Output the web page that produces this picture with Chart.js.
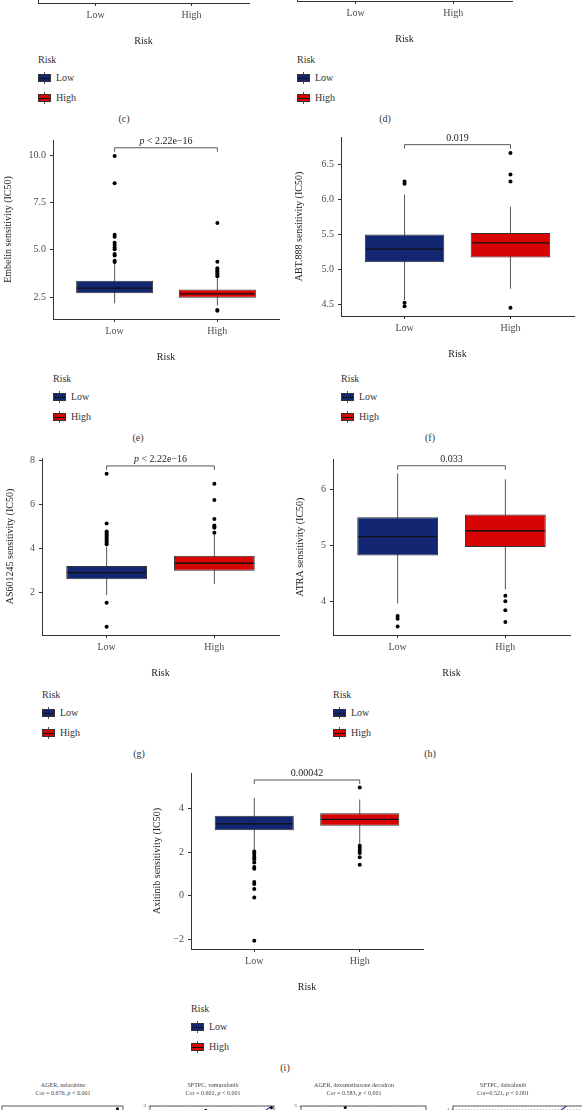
<!DOCTYPE html>
<html>
<head>
<meta charset="utf-8">
<script src="https://cdn.jsdelivr.net/npm/chart.js@4.4.0/dist/chart.umd.min.js"></script>
<style>
  html, body { margin: 0; padding: 0; background: #fff; }
  body { width: 582px; height: 1110px; position: relative; overflow: hidden;
         font-family: "Liberation Serif", "DejaVu Serif", serif; color: #333; }
  .txt { position: absolute; font-size: 10px; line-height: 12px; white-space: nowrap; }
  .mid { transform: translateX(-50%); }
  .tiny { position: absolute; font-size: 6px; line-height: 7px; white-space: nowrap; transform: translateX(-50%); color: #444; }
</style>
</head>
<body>
<script>
'use strict'

// DATA
const riskGroups = ['Low', 'High'];
const riskColors = ['#132672', '#d80404'];

// boxes: lower whisker, Q1, median, Q3, upper whisker
const embelinLow = [2.17, 2.70, 2.97, 3.36, 4.30];
const embelinHigh = [2.05, 2.46, 2.67, 2.90, 3.50];
const embelinLowOut = [9.95, 8.52, 5.79, 5.69, 5.37, 5.25, 5.12, 5.02, 4.77, 4.70, 4.42, 4.35];
const embelinHighOut = [6.42, 4.37, 4.02, 3.93, 3.85, 3.76, 3.67, 3.60, 1.82, 1.78];
const embelinTicks = [2.5, 5, 7.5, 10];
const embelinTickLabels = ['2.5', '5.0', '7.5', '10.0'];

const abtLow = [4.56, 5.10, 5.29, 5.50, 6.07];
const abtHigh = [4.72, 5.17, 5.38, 5.52, 5.90];
const abtLowOut = [6.26, 6.23, 4.52, 4.47];
const abtHighOut = [6.67, 6.36, 6.26, 4.45];
const abtTicks = [4.5, 5, 5.5, 6, 6.5];
const abtTickLabels = ['4.5', '5.0', '5.5', '6.0', '6.5'];

const as601Low = [1.90, 2.61, 2.91, 3.21, 4.10];
const as601High = [2.40, 3.00, 3.34, 3.68, 4.65];
const as601LowOut = [7.40, 5.15, 4.78, 4.72, 4.65, 4.58, 4.50, 4.42, 4.35, 4.27, 4.20, 1.55, 0.45];
const as601HighOut = [6.95, 6.21, 5.35, 5.05, 5.00, 4.95, 4.72];
const as601Ticks = [2, 4, 6, 8];
const as601TickLabels = ['2', '4', '6', '8'];

const atraLow = [3.96, 4.82, 5.155, 5.50, 6.28];
const atraHigh = [4.21, 4.97, 5.26, 5.55, 6.18];
const atraLowOut = [3.74, 3.69, 3.55];
const atraHighOut = [4.10, 4.00, 3.84, 3.63];
const atraTicks = [4, 5, 6];
const atraTickLabels = ['4', '5', '6'];

const axitinibLow = [2.10, 3.01, 3.30, 3.67, 4.48];
const axitinibHigh = [2.35, 3.21, 3.50, 3.79, 4.42];
const axitinibLowOut = [2.03, 1.96, 1.87, 1.77, 1.68, 1.53, 1.32, 1.24, 0.63, 0.54, 0.31, -0.08, -2.06];
const axitinibHighOut = [4.96, 2.29, 2.19, 2.08, 1.96, 1.77, 1.42];
const axitinibTicks = [-2, 0, 2, 4];
const axitinibTickLabels = ['\u22122', '0', '2', '4'];

const pLabels = ['p < 2.22e\u221216', '0.019', 'p < 2.22e\u221216', '0.033', '0.00042'];

// correlation panels (only their tops are in the picture)
const corTitles = ['AGER, nelarabine', 'SFTPC, vemurafenib', 'AGER, dexamethasone decadron', 'SFTPC, dabrafenib'];
const corTexts = ['Cor = 0.676, ', 'Cor = 0.602, ', 'Cor = 0.583, ', 'Cor=0.521, '];
const agerNelPoints = [{x: 9.54, y: 1.07}];
const sftpcVemPoints = [{x: 4.5, y: 2.87}, {x: 9.79, y: 2.95}];
const sftpcVemFit = [{x: 0, y: 0.3}, {x: 10, y: 3.05}];
const agerDexPoints = [{x: 3.54, y: 4.92}];
const sftpcDabFit = [{x: 0, y: 0.5}, {x: 10, y: 4.75}];

Chart.defaults.font.family = '"Liberation Serif", "DejaVu Serif", serif';
Chart.defaults.color = '#333';

// HELPERS
function addText(str, x, cy, center, cls) {
  const d = document.createElement('div');
  d.className = (cls || 'txt') + (center ? ' mid' : '');
  d.innerHTML = str;
  d.style.left = x + 'px';
  d.style.top = (cy - 6) + 'px';
  document.body.appendChild(d);
}

function addSwatch(x, cy, color) {
  const w = document.createElement('div');
  w.style.cssText = 'position:absolute;left:' + x + 'px;top:' + (cy - 6) + 'px;width:13px;height:12px;';
  w.innerHTML = '<div style="position:absolute;left:6px;top:0;width:1px;height:12px;background:#555"></div>' +
    '<div style="position:absolute;left:0;top:2px;width:13px;height:8px;box-sizing:border-box;border:1px solid #333;background:' + color + '"></div>' +
    '<div style="position:absolute;left:1px;top:5.5px;width:11px;height:1px;background:#111"></div>';
  document.body.appendChild(w);
}

function addLegend(x, titleY, tag, tagX) {
  addText('Risk', x, titleY);
  addSwatch(x, titleY + 18, riskColors[0]);
  addText(riskGroups[0], x + 18, titleY + 18);
  addSwatch(x, titleY + 38, riskColors[1]);
  addText(riskGroups[1], x + 18, titleY + 38);
  addText(tag, tagX, titleY + 59, true);
}

function boxPanel(p) {
  const padTop = 30;
  const xAxisH = 44;
  const top = p.top - padTop;
  const div = document.createElement('div');
  div.style.cssText = 'position:absolute;left:' + p.canvasLeft + 'px;top:' + top + 'px;width:' +
    (p.right - p.canvasLeft + 8) + 'px;height:' + (p.bottom - top + xAxisH) + 'px;';
  const canvas = document.createElement('canvas');
  div.appendChild(canvas);
  document.body.appendChild(div);

  const stats = p.stats || [];
  const outliers = [];
  (p.outliers || []).forEach((list, i) => list.forEach(v => outliers.push({x: i + 1, y: v})));

  const extras = {
    id: 'boxExtras',
    afterDatasetsDraw(chart) {
      const ctx = chart.ctx;
      const xs = chart.scales.x, ys = chart.scales.y;
      const meta = chart.getDatasetMeta(1);
      ctx.save();
      ctx.strokeStyle = '#111';
      ctx.lineWidth = 1.3;
      meta.data.forEach((bar, i) => {
        const {x, width} = bar.getProps(['x', 'width'], true);
        const py = ys.getPixelForValue(stats[i][2]);
        ctx.beginPath();
        ctx.moveTo(x - width / 2 + 1, py);
        ctx.lineTo(x + width / 2 - 1, py);
        ctx.stroke();
      });
      if (p.pText) {
        const x1 = xs.getPixelForValue(1), x2 = xs.getPixelForValue(2);
        const by = ys.getPixelForValue(p.bracketAt);
        ctx.strokeStyle = '#444';
        ctx.lineWidth = 0.9;
        ctx.beginPath();
        ctx.moveTo(x1, by + 4); ctx.lineTo(x1, by); ctx.lineTo(x2, by); ctx.lineTo(x2, by + 4);
        ctx.stroke();
        const fam = '"Liberation Serif", "DejaVu Serif", serif';
        ctx.fillStyle = '#222';
        ctx.textBaseline = 'alphabetic';
        ctx.textAlign = 'left';
        const cx = (x1 + x2) / 2;
        if (p.pText.startsWith('p ')) {
          ctx.font = 'italic 10px ' + fam;
          const wp = ctx.measureText('p').width;
          ctx.font = '10px ' + fam;
          const rest = p.pText.slice(1);
          const wr = ctx.measureText(rest).width;
          const sx = cx - (wp + wr) / 2;
          ctx.font = 'italic 10px ' + fam;
          ctx.fillText('p', sx, by - 3.5);
          ctx.font = '10px ' + fam;
          ctx.fillText(rest, sx + wp, by - 3.5);
        } else {
          ctx.font = '10px ' + fam;
          ctx.textAlign = 'center';
          ctx.fillText(p.pText, cx, by - 3.5);
        }
      }
      ctx.restore();
    }
  };

  const axisGrid = {display: true, drawOnChartArea: false, drawTicks: true, tickLength: 3, color: '#333', offset: false};
  const axisBorder = {display: true, color: '#333', width: 1};

  new Chart(canvas, {
    type: 'bar',
    data: {
      datasets: [
        {
          data: stats.map((s, i) => ({x: i + 1, y: [s[0], s[4]]})),
          backgroundColor: '#555', grouped: false, maxBarThickness: 1, order: 3
        },
        {
          data: stats.map((s, i) => ({x: i + 1, y: [s[1], s[3]]})),
          backgroundColor: riskColors, borderColor: '#333', borderWidth: 1, borderSkipped: false,
          grouped: false, categoryPercentage: 1, barPercentage: 0.75, order: 2
        },
        {
          type: 'scatter', data: outliers, backgroundColor: '#000', borderWidth: 0, pointRadius: 2, order: 1
        }
      ]
    },
    options: {
      animation: false,
      responsive: true,
      maintainAspectRatio: false,
      events: [],
      layout: {padding: {top: padTop, right: 8, left: 0, bottom: 0}},
      plugins: {legend: {display: false}, tooltip: {enabled: false}},
      scales: {
        x: {
          type: 'linear', min: 0.4, max: 2.6, offset: false,
          afterBuildTicks: (s) => { s.ticks = riskGroups.map((g, i) => ({value: i + 1})); },
          afterFit: (s) => { s.height = xAxisH; },
          ticks: {callback: (v, i) => riskGroups[i], color: '#4d4d4d', font: {size: 10}, padding: 3, autoSkip: false, maxRotation: 0},
          grid: axisGrid,
          border: axisBorder,
          title: {display: true, text: 'Risk', color: '#222', font: {size: 10}, padding: {top: 0, bottom: 0}}
        },
        y: {
          type: 'linear', min: p.yMin, max: p.yMax, beginAtZero: false,
          afterBuildTicks: (s) => { s.ticks = (p.ticks || []).map(v => ({value: v})); },
          afterFit: (s) => { s.width = p.left - p.canvasLeft; },
          ticks: {callback: (v, i) => (p.tickLabels || [])[i], color: '#4d4d4d', font: {size: 10}, padding: 4, autoSkip: false},
          grid: axisGrid,
          border: axisBorder,
          title: {display: !!p.yTitle, text: p.yTitle || '', color: '#222', font: {size: 10}, padding: {top: p.titlePad || 0, bottom: 0}}
        }
      }
    },
    plugins: [extras]
  });
}

function corPanel(p, index) {
  const areaTop = 1105, areaH = 100, yW = 30, padTop = 4;
  const div = document.createElement('div');
  div.style.cssText = 'position:absolute;left:' + (p.left - yW) + 'px;top:' + (areaTop - padTop) + 'px;width:' +
    (p.right - p.left + yW + 2) + 'px;height:' + (areaH + padTop + 20) + 'px;';
  const canvas = document.createElement('canvas');
  div.appendChild(canvas);
  document.body.appendChild(div);

  const frame = {
    id: 'frame',
    afterDraw(chart) {
      const a = chart.chartArea, ctx = chart.ctx;
      ctx.save();
      ctx.strokeStyle = '#333';
      ctx.lineWidth = 0.8;
      ctx.strokeRect(a.left, a.top, a.right - a.left, a.bottom - a.top);
      ctx.restore();
    }
  };

  new Chart(canvas, {
    type: 'scatter',
    data: {
      datasets: [
        {data: p.points || [], backgroundColor: '#000', borderWidth: 0, pointRadius: 1.5},
        {type: 'line', data: p.fit || [], borderColor: '#2c3e9c', borderWidth: 1.2, pointRadius: 0, fill: false}
      ]
    },
    options: {
      animation: false, responsive: true, maintainAspectRatio: false, events: [],
      layout: {padding: {top: padTop, right: 2, left: 0, bottom: 0}},
      plugins: {legend: {display: false}, tooltip: {enabled: false}},
      scales: {
        x: {type: 'linear', min: 0, max: 10, afterFit: (s) => { s.height = 20; },
            ticks: {display: false}, grid: {display: false}, border: {display: false}},
        y: {
          type: 'linear', min: 0, max: p.yMax,
          afterBuildTicks: (s) => { s.ticks = p.ticks.map(v => ({value: v})); },
          afterFit: (s) => { s.width = yW; },
          ticks: {font: {size: 5}, color: '#444', padding: 2},
          grid: {color: '#777', lineWidth: 0.5, tickLength: 2},
          border: {display: false, dash: [1, 2]}
        }
      }
    },
    plugins: [frame]
  });

  addText(corTitles[index], p.titleX, 1088, false, 'tiny');
  addText(corTexts[index] + '<i>p</i> &lt; 0.001', p.titleX, 1096, false, 'tiny');
}

// PANELS
// (c) and (d): only the bottom of the axes is visible
boxPanel({canvasLeft: 0, left: 38, right: 249, top: -178, bottom: 3, yMin: 0, yMax: 1});
boxPanel({canvasLeft: 291, left: 297, right: 512, top: -179, bottom: 1, yMin: 0, yMax: 1});
addLegend(38, 60, '(c)', 124);
addLegend(297, 60, '(d)', 385);

boxPanel({
  canvasLeft: 0, left: 53, right: 279, top: 140, bottom: 319, yMin: 1.34, yMax: 10.8,
  ticks: embelinTicks, tickLabels: embelinTickLabels, yTitle: 'Embelin sensitivity (IC50)', titlePad: 2,
  stats: [embelinLow, embelinHigh], outliers: [embelinLowOut, embelinHighOut], bracketAt: 10.39, pText: pLabels[0]
});
addLegend(53, 379, '(e)', 138);

boxPanel({
  canvasLeft: 291, left: 341, right: 574, top: 137, bottom: 316, yMin: 4.33, yMax: 6.90,
  ticks: abtTicks, tickLabels: abtTickLabels, yTitle: 'ABT.888 sensitivity (IC50)', titlePad: 2,
  stats: [abtLow, abtHigh], outliers: [abtLowOut, abtHighOut], bracketAt: 6.79, pText: pLabels[1]
});
addLegend(341, 379, '(f)', 430);

boxPanel({
  canvasLeft: 0, left: 42, right: 279, top: 458, bottom: 635, yMin: 0.08, yMax: 8.12,
  ticks: as601Ticks, tickLabels: as601TickLabels, yTitle: 'AS601245 sensitivity (IC50)', titlePad: 4,
  stats: [as601Low, as601High], outliers: [as601LowOut, as601HighOut], bracketAt: 7.76, pText: pLabels[2]
});
addLegend(42, 695, '(g)', 139);

boxPanel({
  canvasLeft: 291, left: 333, right: 570, top: 459, bottom: 635, yMin: 3.40, yMax: 6.54,
  ticks: atraTicks, tickLabels: atraTickLabels, yTitle: 'ATRA sensitivity (IC50)', titlePad: 3,
  stats: [atraLow, atraHigh], outliers: [atraLowOut, atraHighOut], bracketAt: 6.42, pText: pLabels[3]
});
addLegend(333, 695, '(h)', 430);

boxPanel({
  canvasLeft: 150, left: 191, right: 423, top: 773, bottom: 949, yMin: -2.44, yMax: 5.63,
  ticks: axitinibTicks, tickLabels: axitinibTickLabels, yTitle: 'Axitinib sensitivity (IC50)', titlePad: 1,
  stats: [axitinibLow, axitinibHigh], outliers: [axitinibLowOut, axitinibHighOut], bracketAt: 5.31, pText: pLabels[4]
});
addLegend(191, 1009, '(i)', 285);

corPanel({left: 2, right: 125, titleX: 63, yMax: 1.1, ticks: [1], points: agerNelPoints}, 0);
corPanel({left: 150, right: 276, titleX: 213, yMax: 3, ticks: [3], points: sftpcVemPoints, fit: sftpcVemFit}, 1);
corPanel({left: 301, right: 428, titleX: 354, yMax: 5, ticks: [5], points: agerDexPoints}, 2);
corPanel({left: 453, right: 585, titleX: 503, yMax: 4.15, ticks: [4], fit: sftpcDabFit}, 3);
</script>
</body>
</html>
